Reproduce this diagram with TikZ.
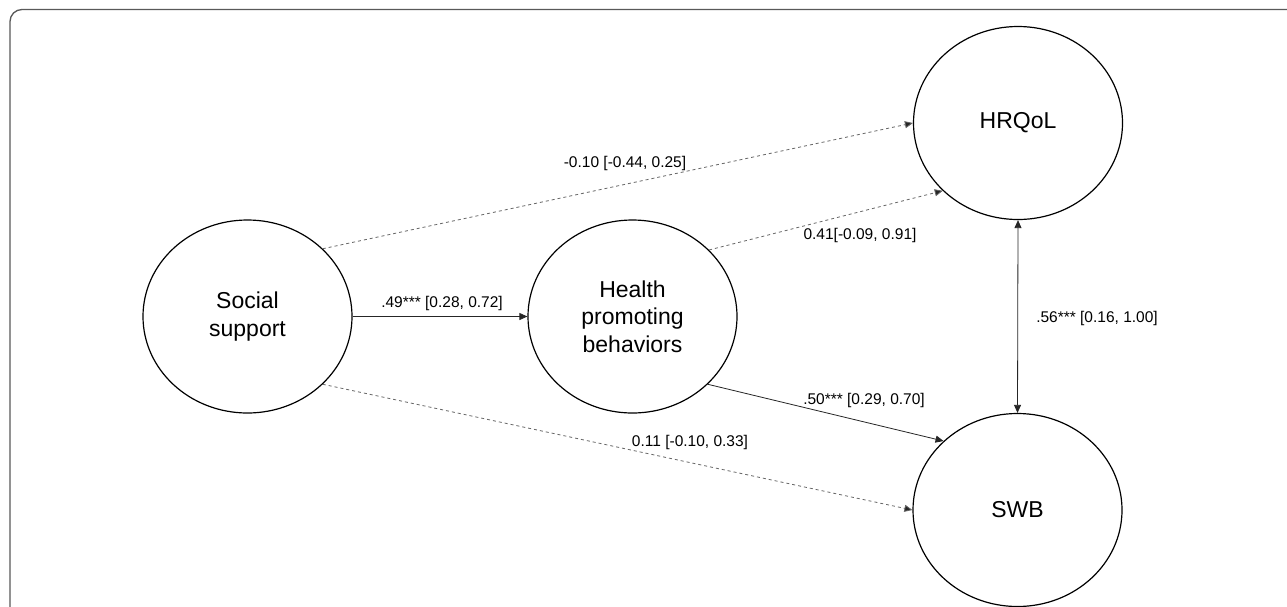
\documentclass[tikz,border=0pt]{standalone}
\usepackage{fontspec}
\setmainfont{Liberation Sans}
\usetikzlibrary{arrows.meta,shapes.geometric}
\begin{document}
\begin{tikzpicture}[x=1pt,y=-1pt,
  latent/.style={draw, line width=1.2pt, ellipse, minimum width=209pt, minimum height=193pt, inner sep=0pt, align=center, font=\fontsize{23}{27.5}\selectfont},
  lbl/.style={font=\fontsize{15.5}{18}\selectfont, inner sep=0pt},
  sig/.style={line width=0.8pt, black!85, -{Triangle[length=8pt,width=7pt]}},
  nsig/.style={line width=0.8pt, black!60, dash pattern=on 3pt off 3pt, -{Triangle[length=8pt,width=7pt,fill=black!85]}},
  frame/.style={draw=black!65, line width=1.3pt, rounded corners=12pt}]
\useasboundingbox (0,0) rectangle (1287,606);
\fill[white] (0,0) rectangle (1287,606);
\draw[frame] (10,9.5) rectangle (1310,640);

\node[latent] (ss) at (247.5,316.5) {Social\\support};
\node[latent] (hp) at (632.5,316.5) {Health\\promoting\\behaviors};
\node[latent] (hr) at (1018,123) {HRQoL};
\node[latent] (swb) at (1017.5,510) {SWB};

\draw[sig] (ss.east) -- (hp.west);
\draw[nsig] (ss.42) -- (hr.west);
\draw[nsig] (hp.41.5) -- (hr.222.6);
\draw[sig] (hp.-42) -- (swb.137.6);
\draw[nsig] (ss.-42) -- (swb.west);
\draw[sig, {Triangle[length=8pt,width=7pt]}-{Triangle[length=8pt,width=7pt]}] (hr.south) -- (swb.north);

\node[lbl] (l1) at (442,303) {.49*** [0.28, 0.72]};
\node[lbl] (l2) at (625,163) {-0.10 [-0.44, 0.25]};
\node[lbl] (l3) at (860,235) {0.41[-0.09, 0.91]};
\node[lbl] (l4) at (864,400) {.50*** [0.29, 0.70]};
\node[lbl] (l5) at (690,442) {0.11 [-0.10, 0.33]};
\node[lbl] (l6) at (1097,318) {.56*** [0.16, 1.00]};
\end{tikzpicture}
\end{document}
